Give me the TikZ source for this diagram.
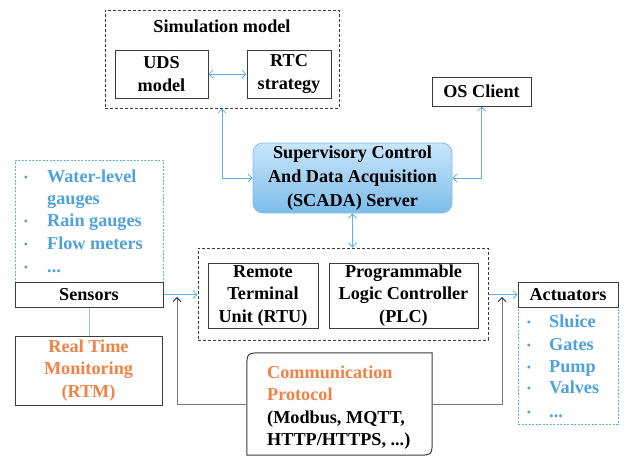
\documentclass[tikz,border=0pt]{standalone}
\usepackage{fontspec}
\setmainfont{Liberation Serif}
\usetikzlibrary{arrows.meta,calc}
\definecolor{tblue}{RGB}{80,160,220}
\definecolor{lblue}{RGB}{100,175,230}
\definecolor{torange}{RGB}{240,130,70}
\definecolor{boxgray}{RGB}{60,60,60}
\definecolor{linegray}{RGB}{120,120,120}
\definecolor{scadatop}{RGB}{200,230,250}
\definecolor{scadabot}{RGB}{125,188,235}
\definecolor{scadaedge}{RGB}{130,190,235}
\begin{document}
\begin{tikzpicture}[x=1pt,y=-1pt,
 txt/.style={font=\fontsize{18.2}{22.5}\selectfont\bfseries},
 box/.style={draw=boxgray, line width=1pt, txt, align=center, inner sep=0pt},
 dbox/.style={draw=boxgray, line width=1pt, dash pattern=on 3pt off 2pt, inner sep=0pt},
 lbox/.style={draw=lblue, line width=0.7pt, dash pattern=on 2pt off 1.5pt, inner sep=0pt},
 tip/.tip={Straight Barb[length=4pt,width=8pt,line width=0.8pt]},
 barr/.style={draw=lblue, line width=0.8pt, tip-tip},
 sarr/.style={draw=lblue, line width=0.8pt, -tip},
 garr/.style={draw=linegray, line width=0.8pt, -{Straight Barb[length=4pt,width=8pt,line width=0.8pt,color=black]}},
 bul/.style={font=\fontsize{12}{12}\selectfont, text=tblue, anchor=base, inner sep=0pt},
 item/.style={txt, text=tblue, anchor=base west, inner sep=0pt},
]
\useasboundingbox (0,0) rectangle (626,456);

% Simulation model group
\node[dbox, minimum width=234pt, minimum height=98pt] (sim) at (222,59) {};
\node[txt, inner sep=0pt] (simt) at (222,26) {Simulation model};
\node[box, minimum width=93pt, minimum height=48pt] (uds) at (161.5,74) {UDS\\model};
\node[box, minimum width=84pt, minimum height=48pt] (rtc) at (289,74) {RTC\\strategy};
\draw[barr] (uds.east) -- (rtc.west);

% SCADA
\node[txt, align=center, rounded corners=10pt, draw=scadaedge, line width=0.8pt,
      top color=scadatop, bottom color=scadabot, minimum width=199pt, minimum height=70pt,
      inner sep=0pt, font=\fontsize{18.2}{24}\selectfont\bfseries] (scada) at (352.5,178)
      {Supervisory Control\\And Data Acquisition\\(SCADA) Server};

% OS Client
\node[box, minimum width=99pt, minimum height=29pt] (os) at (481.5,91.5) {OS Client};

\draw[barr] (sim.south) |- (scada.west);
\draw[barr] (scada.east) -| (os.south);

% RTU / PLC group
\node[dbox, minimum width=290pt, minimum height=92pt] (grp) at (343,294) {};
\node[box, minimum width=110pt, minimum height=65pt] (rtu) at (263,295.5) {Remote\\Terminal\\Unit (RTU)};
\node[box, minimum width=149pt, minimum height=65pt] (plc) at (403.5,295.5) {Programmable\\Logic Controller\\(PLC)};
\draw[barr] (scada.south) -- (scada.south |- grp.north);

% Sensors
\node[lbox, minimum width=148pt, minimum height=122pt] (slist) at (89,221) {};
\node[box, minimum width=148pt, minimum height=25pt] (sens) at (89,294.5) {Sensors};
\node[bul] (sb1) at (26,181) {•};
\node[item] (si1) at (47,182) {Water-level};
\node[item] (si1b) at (47,204) {gauges};
\node[bul] (sb2) at (26,225) {•};
\node[item] (si2) at (47,226) {Rain gauges};
\node[bul] (sb3) at (26,248) {•};
\node[item] (si3) at (47,249) {Flow meters};
\node[bul] (sb4) at (26,271) {•};
\node[item] (si4) at (47,272) {...};

% RTM
\node[box, minimum width=147pt, minimum height=69pt, text=torange] (rtm) at (88.5,370.5) {Real Time\\Monitoring\\(RTM)};
\draw[draw=lblue!70, line width=0.7pt] (sens.south) -- (sens.south |- rtm.north);

% Actuators
\node[lbox, minimum width=100pt, minimum height=117pt] (alist) at (568,365.5) {};
\node[box, minimum width=100pt, minimum height=25pt] (act) at (568,294.5) {Actuators};
\node[bul] (ab1) at (529,326) {•};
\node[item] (ai1) at (549,327) {Sluice};
\node[bul] (ab2) at (529,349) {•};
\node[item] (ai2) at (549,350) {Gates};
\node[bul] (ab3) at (529,371) {•};
\node[item] (ai3) at (549,372) {Pump};
\node[bul] (ab4) at (529,392) {•};
\node[item] (ai4) at (549,393) {Valves};
\node[bul] (ab5) at (529,416) {•};
\node[item] (ai5) at (549,417) {...};

\draw[sarr] (sens.east) -- (sens.east -| grp.west);
\draw[sarr] (grp.east |- act.west) -- (act.west);

% Communication protocol
\node[minimum width=185pt, minimum height=102pt, inner sep=0pt] (comm) at (339.5,404) {};
\draw[boxgray, line width=1pt, fill=white]
  (comm.south west) -- ($(comm.north west)+(0,16)$)
  .. controls (comm.north west) .. ($(comm.north west)+(16,0)$)
  -- (comm.north east) -- ($(comm.south east)+(0,-16)$)
  .. controls (comm.south east) .. ($(comm.south east)+(-16,0)$) -- cycle;
\node[txt, text=torange, anchor=base west, inner sep=0pt] (c1) at (267,378) {Communication};
\node[txt, text=torange, anchor=base west, inner sep=0pt] (c2) at (267,400) {Protocol};
\node[txt, anchor=base west, inner sep=0pt] (c3) at (267,423) {(Modbus, MQTT,};
\node[txt, anchor=base west, inner sep=0pt] (c4) at (267,445) {HTTP/HTTPS, ...)};

\coordinate (lt) at (177,297);
\coordinate (rt) at (502,297);
\draw[garr] (comm.west) -| (lt);
\draw[garr] (comm.east) -| (rt);
\end{tikzpicture}
\end{document}
